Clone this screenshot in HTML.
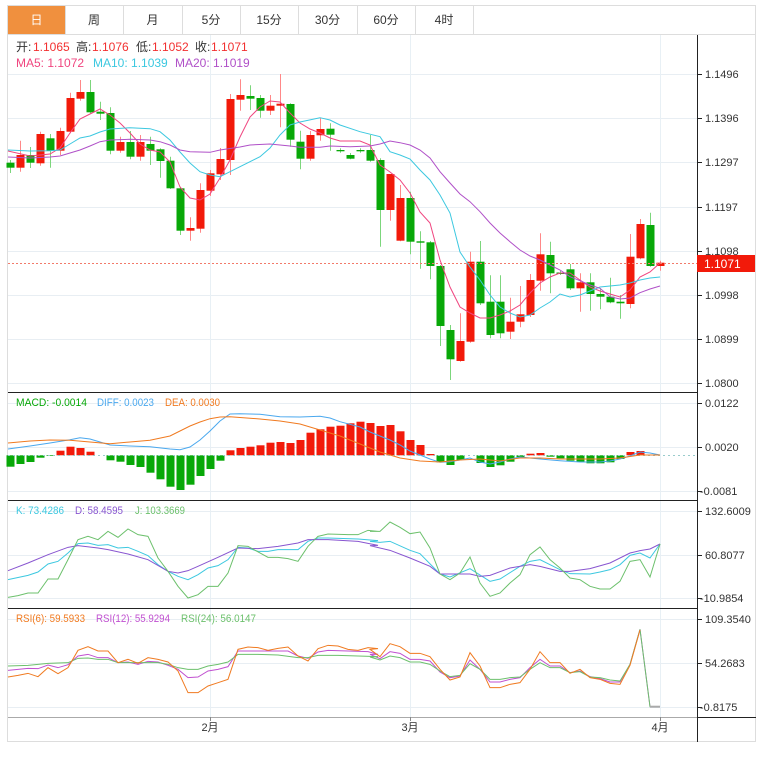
<!DOCTYPE html>
<html><head><meta charset="utf-8"><style>
body{margin:0;background:#fff;width:769px;height:759px;overflow:hidden;font-family:"Liberation Sans","Noto Sans CJK SC",sans-serif}
svg{position:absolute;left:0;top:0}
</style></head><body>
<svg id="s" width="769" height="759" xmlns="http://www.w3.org/2000/svg" font-family="Liberation Sans, Noto Sans CJK SC, sans-serif"></svg>
<script>
var o='';
function L(x1,y1,x2,y2,c,w,d){o+='<line x1="'+x1+'" y1="'+y1+'" x2="'+x2+'" y2="'+y2+'" stroke="'+c+'" stroke-width="'+(w||1)+'"'+(d?' stroke-dasharray="'+d+'"':'')+'/>';}
function R(x,y,w,h,f){o+='<rect x="'+x+'" y="'+y+'" width="'+w+'" height="'+h+'" fill="'+f+'"/>';}
function T(x,y,t,c,s,a,tl){o+='<text x="'+x+'" y="'+y+'" fill="'+c+'" font-size="'+(s||12)+'"'+(a?' text-anchor="'+a+'"':'')+(tl?' textLength="'+tl+'" lengthAdjust="spacingAndGlyphs"':'')+'>'+t+'</text>';}
function P(pts,c,w){o+='<polyline fill="none" stroke="'+c+'" stroke-width="'+(w||1)+'" points="'+pts.map(function(p){return p[0]+','+p[1]}).join(' ')+'"/>';}
function Z(arr,ox,oy){var r=[];for(var i=0;i<arr.length;i+=2)r.push([ox+arr[i]/3,oy+arr[i+1]/3]);return r;}
o+='<rect x="7.5" y="5.5" width="748" height="736" fill="#fff" stroke="#ddd"/>';
var tabs=['日','周','月','5分','15分','30分','60分','4时'];var tx=[8,65,123,182,240,298,357,415,473];
R(8,6,57,28,'#f0903e');
for(var i=0;i<8;i++){T((tx[i]+tx[i+1])/2,24,tabs[i],i==0?'#fff':'#333',12,'middle');L(tx[i+1]+.5,6,tx[i+1]+.5,34,'#ddd');}
L(7,34.5,756,34.5,'#ddd');
var gy=[74,118,162,207,251,295,339,383];
gy.forEach(function(y){L(8,y+.5,697,y+.5,'#e8eef3');});
[210,410,660].forEach(function(x){L(x+.5,35,x+.5,717,'#e8f0f5');});
[403,447,491,511,555,598,619,663,707].forEach(function(y){L(8,y+.5,697,y+.5,'#e8eef3');});
L(697.5,35,697.5,742,'#222');
L(8,392.5,697,392.5,'#222');L(8,500.5,697,500.5,'#222');L(8,608.5,697,608.5,'#222');
L(8,717.5,697,717.5,'#aaa');
L(697,717.5,756,717.5,'#222');
var pl=['1.1496','1.1396','1.1297','1.1197','1.1098','1.0998','1.0899','1.0800'];
gy.forEach(function(y,i){L(698,y+.5,702,y+.5,'#222');T(705,y+4,pl[i],'#333',11);});
[[403,'0.0122'],[447,'0.0020'],[491,'-0.0081'],[511,'132.6009'],[555,'60.8077'],[598,'-10.9854'],[619,'109.3540'],[663,'54.2683'],[707,'-0.8175']].forEach(function(a){L(698,a[0]+.5,702,a[0]+.5,'#222');T(a[1][0]=='-'?700:705,a[0]+4,a[1],'#333',11);});
[[210,'2月'],[410,'3月'],[660,'4月']].forEach(function(a){L(a[0]+.5,717,a[0]+.5,721,'#888');T(a[0],731,a[1],'#333',11,'middle');});
var C=[[162.7,167.7,160,173,0],[155,167.7,140.7,171.7,1],[155,162.7,147,168,0],[134,163.3,131.7,165.7,1],[138.3,150.7,134,167.7,0],[131,150.7,127.7,155,1],[98,131.7,92.7,133.3,1],[92,98.7,80,100.7,1],[92,112.3,80,113.3,0],[111.7,113.7,101.7,120,0],[113,150.7,107.3,154.3,0],[142,150.7,136.7,152.7,1],[142,156.7,131,159.3,0],[142,156.7,135,160.7,1],[144,150.7,136.7,165,0],[149.3,161,148.3,177.7,0],[160.7,188.3,156.7,189,0],[188.3,230.7,186.7,235,0],[228,230.7,217.3,240.7,1],[190,228.7,183.3,232.7,1],[173.3,190.7,170,196,1],[159,174.3,148,180,1],[99,160,94,175,1],[95,99.7,79.3,110.7,1],[96,98.7,85.3,110,0],[98,110.7,95,117.7,0],[105.7,110.7,95,115,1],[103.7,105.7,74,127.3,1],[104,139.7,103.3,146.7,0],[141.7,158.7,130.7,169.3,0],[135,158.7,131,160.7,1],[129,135.3,117.7,140.7,1],[128.7,134.7,123.3,150.7,0],[150,151.3,148.3,152.7,0],[155,158.7,153,159.3,0],[150,151.3,148.3,152.7,0],[150,160.7,135,161.7,0],[160,210,158.3,246.7,0],[174,210,174,220.7,1],[198,240.7,185,241.3,1],[198,241.7,191.7,254.3,0],[241.3,242.7,231.3,268.7,0],[242.3,266,241,279.3,0],[266,326,265,346,0],[330,359.3,325,380,0],[341,361,313.3,361.7,1],[261.7,341.7,251.7,342.7,1],[261.7,303.3,241,305,0],[301.7,335,275.3,338.3,0],[301.7,333.3,275.3,338.3,0],[321.7,331.7,297.7,339,1],[314.3,321.7,286,327.3,1],[280,315,274,317,1],[254.3,280.7,233.3,290.7,1],[255,273.3,241.7,293.3,0],[272.5,274,271,275,0],[269.3,288.3,264,290,0],[282.3,288.3,273.3,311.7,1],[282.3,294,273.3,310.7,0],[294,296.7,288.3,309.3,0],[296.7,302.3,277.7,303.3,0],[301.7,303.3,295,318.7,0],[256.7,304,234,308.3,1],[224,258.3,219,259.3,1],[225,266,212.7,266.7,0],[262.7,266,260.7,270.7,1]];
C.forEach(function(c,i){var x=10.5+10*i;var col=c[4]?'#f21a0a':'#08a808';var wc=c[4]?'#f88':'#7cd67c';L(x,c[2],x,c[3],wc);R(x-4,c[0],8,Math.max(1.3,c[1]-c[0]),col);});
L(8,263.5,697,263.5,'#f27a6a',1,'2,2');
R(697,255,58,17,'#f21a0a');T(704,268,'1.1071','#fff',12);
P([[8,151],[30,156],[50,154],[60,148],[70,133],[80,119],[90,114],[100,109],[110,115],[120,123],[130,133],[140,144],[150,150],[160,152],[170,162],[180,187],[190,198],[200,200],[210,194],[220,178],[230,160],[240,137],[250,117],[260,107],[270,101],[280,102],[290,113],[300,123],[310,129],[320,133],[330,138],[340,141],[360,141],[370,145],[380,165],[390,172],[400,180],[410,193],[420,212],[430,223],[440,260],[450,287],[460,307],[470,313],[480,318],[490,318],[500,315],[510,311],[520,305],[530,293],[540,283],[550,277],[560,273],[570,273],[580,280],[590,287],[600,291],[610,294],[620,297],[630,290],[640,277],[650,272],[660,263]],'#f0457f');
P([[8,150],[30,151],[50,150.7],[60,150],[70,144],[80,138],[90,136],[100,132],[110,129],[130,127.7],[150,128.7],[160,131.7],[170,140],[180,152],[190,163],[200,171.7],[210,175],[220,176.7],[230,171.7],[240,166.7],[260,156.7],[270,148],[280,135],[290,125],[300,122],[320,117.7],[330,120],[340,125],[360,131.7],[380,136.7],[390,151.7],[400,155],[410,159],[420,170],[430,180],[440,195],[450,213],[460,252],[470,267],[480,280],[490,295],[500,307],[510,313],[520,317],[530,315],[540,308],[550,302],[560,294],[570,297],[580,295],[590,291],[600,287],[620,285],[630,283],[640,280],[650,278],[660,277]],'#3cc8e0');
P([[8,157],[30,158],[50,157],[60,156],[70,153],[80,150],[90,146],[100,141.7],[110,140],[130,139.3],[150,140],[160,141.7],[170,145],[180,150],[190,151.7],[210,152.3],[220,150],[240,147],[250,145],[270,144],[290,146],[300,147.3],[320,147.3],[330,146],[350,146.7],[370,146],[380,144],[390,141],[400,142.7],[410,145],[420,150],[430,158],[440,171.7],[450,183],[460,194],[470,201.7],[480,211.7],[490,223],[500,233],[510,241.7],[520,250],[530,256],[540,260],[550,265],[560,270],[570,276.7],[580,280.7],[590,285],[600,288.3],[610,296.7],[620,299],[630,298],[640,292.7],[650,289],[660,286]],'#b050c8');
T(16,51,'开:','#333',12);T(33,51,'1.1065','#f23030',12);T(76,51,'高:','#333',12);T(92,51,'1.1076','#f23030',12);T(136,51,'低:','#333',12);T(152,51,'1.1052','#f23030',12);T(195,51,'收:','#333',12);T(211,51,'1.1071','#f23030',12);
T(16,67,'MA5: 1.1072','#f0457f',12);T(93,67,'MA10: 1.1039','#3cc8e0',12);T(175,67,'MA20: 1.1019','#b050c8',12);
var H=[466.7,464,462,457.7,456,450.7,446.7,448,451.7,455.3,460.3,461.7,465,467,472.7,479.3,486.7,490,484.7,476,469,460.7,450.3,448,446.7,445.3,442.7,442,443,440,432.7,429.3,426.7,425.7,423.3,421.7,423,426,425,431.3,440,445,454,462.3,465,460,455.3,463,467,465.3,461.7,458.3,453.7,453,456.7,458.3,460.7,461.7,463.3,463.3,462.3,459,452,451];
var Z0=455.3;H.forEach(function(y,i){var x=10.5+10*i;if(Math.abs(y-Z0)<0.5)return;if(y<Z0)R(x-4,y,8,Z0-y,'#f21a0a');else R(x-4,Z0,8,y-Z0,'#08a808');});
L(8,455.5,697,455.5,'#9cc',1,'2,3');
P([[8,449],[30,446],[50,443],[70,439.7],[80,437.7],[90,439],[100,442],[110,445],[130,446],[150,446.7],[170,449],[180,449.7],[190,447],[200,440],[210,431],[220,421],[230,414],[240,413.7],[260,414.3],[280,416.7],[300,417],[320,416.3],[330,418],[340,421.7],[360,427],[370,432],[380,436],[390,440],[400,445],[410,451],[420,455],[430,459],[440,462.3],[450,461.7],[460,460],[470,458],[480,462],[490,464],[500,462],[510,459],[520,457],[530,458],[540,459],[560,460.7],[580,462],[600,462],[610,461],[620,459],[630,456],[640,452],[650,453],[660,455]],'#4aa8ee');
P([[8,443],[30,441],[50,440],[70,440.3],[90,442],[110,443.7],[130,442],[150,440.3],[170,436],[190,426],[200,422],[210,418.7],[220,417],[230,416.7],[260,419],[280,421],[300,424],[320,430],[340,436],[360,444],[380,452],[400,458],[420,461],[440,462],[460,460],[480,459],[500,461],[520,458],[540,458],[560,459],[600,459],[620,458],[640,455],[660,455]],'#f07a20');
T(16,406,'MACD: -0.0014','#08a808',11,null,71);T(97,406,'DIFF: 0.0023','#4aa8ee',11,null,57);T(165,406,'DEA: 0.0030','#f07a20',11,null,55);
P(Z([0,245,60,232,90,222,120,198,150,190,180,165,210,137,240,135,270,142,300,140,330,150,360,148,390,160,420,173,450,200,480,220,510,235,540,245,570,230,600,210,630,203,660,185,690,148,720,150,750,160,780,160,810,155,840,155,870,155,900,130,930,120,960,120,1050,123,1110,128],8,498).concat(Z([0,130,30,133,60,130,120,157,150,167,210,228,240,237,300,212,360,250,390,243,450,205,480,190,510,185,570,215,600,227,660,228,690,222,720,215,750,200,780,172,810,165,840,180,870,138],370,498)),'#3cc8e0');
P(Z([0,218,60,195,120,170,180,148,210,143,270,150,300,155,360,168,420,185,480,220,510,225,540,218,570,205,630,178,690,150,750,152,810,145,870,135,900,125,960,125,1050,130,1110,142],8,498).concat(Z([0,143,60,157,120,180,180,205,210,228,300,228,330,235,360,232,420,210,480,200,510,205,570,220,600,220,660,212,720,195,780,165,810,158,840,153,870,138],370,498)),'#8855d0');
P(Z([0,298,30,293,60,285,90,285,120,243,150,243,180,185,210,125,240,115,270,125,300,100,330,118,360,93,390,110,420,115,450,180,480,220,510,265,540,300,570,290,600,265,630,265,660,225,690,143,720,145,780,178,810,178,840,182,870,190,900,145,930,115,960,108,1020,110,1050,110,1080,97,1110,100],8,498).concat(Z([0,100,30,100,60,72,90,88,120,107,150,102,180,150,210,228,240,245,270,225,300,177,330,255,360,295,390,285,420,255,450,230,480,170,510,147,540,185,570,210,600,240,630,245,660,265,690,273,720,273,750,250,780,190,810,185,840,237,870,138],370,498)),'#6cc06c');
T(16,514,'K: 73.4286','#3cc8e0',11,null,48);T(75,514,'D: 58.4595','#8855d0',11,null,48);T(135,514,'J: 103.3669','#6cc06c',11,null,50);
P(Z([0,193,30,190,60,187,90,188,120,177,150,185,180,176,210,150,240,145,270,155,300,155,330,170,360,168,390,175,420,166,450,168,480,178,510,190,540,215,570,213,600,195,630,190,660,182,690,135,720,135,780,135,840,135,870,150,900,157,930,138,960,133,1020,135,1080,137,1110,145],8,606).concat(Z([0,145,30,158,60,137,90,142,120,160,150,160,180,165,210,198,240,215,270,210,300,162,330,190,360,228,390,228,420,220,450,215,480,185,510,160,540,180,570,180,600,200,630,195,660,212,690,218,720,228,750,228,780,175,810,70,840,302,870,302],370,606)),'#c050d0');
P(Z([0,180,60,178,120,172,180,170,210,157,240,156,270,160,300,160,330,170,390,170,450,170,480,175,510,185,540,190,570,190,600,180,630,175,660,168,690,145,750,145,810,147,870,155,900,155,930,148,990,148,1050,150,1110,152],8,606).concat(Z([0,153,30,162,60,150,90,155,120,168,150,168,180,175,210,195,240,212,270,208,300,173,330,190,360,220,390,220,420,215,450,213,480,190,510,170,540,185,570,185,600,200,630,197,660,213,690,215,720,222,750,225,780,175,810,70,840,302,870,302],370,606)),'#6cc06c');
P(Z([0,213,30,208,60,202,90,212,120,185,150,203,180,185,210,133,240,122,270,135,300,135,330,170,360,160,390,172,420,155,450,160,480,168,510,195,540,260,570,260,600,240,630,230,660,220,690,130,720,123,750,125,780,133,810,127,840,123,870,150,900,165,930,128,960,118,990,120,1020,130,1050,133,1080,125,1110,128],8,606).concat(Z([0,130,30,152,60,113,90,122,120,142,150,142,180,152,210,190,240,222,270,213,300,140,330,180,360,245,390,245,420,235,450,230,480,190,510,137,540,170,570,170,600,202,630,190,660,215,690,220,720,232,750,235,780,178,810,72],370,606)),'#f07a20');
L(650,706.7,660,706.7,'#aaa',2);
T(16,622,'RSI(6): 59.5933','#f07a20',11,null,69);T(96,622,'RSI(12): 55.9294','#c050d0',11,null,74);T(181,622,'RSI(24): 56.0147','#6cc06c',11,null,75);
document.getElementById('s').innerHTML=o;
</script>
</body></html>
